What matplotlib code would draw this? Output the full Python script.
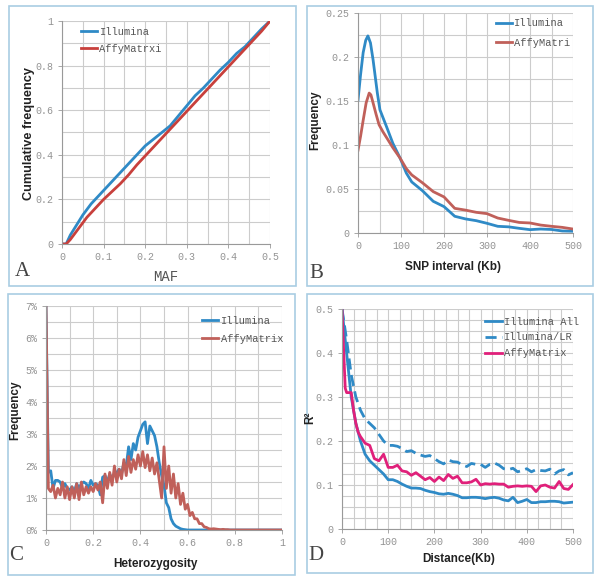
import matplotlib
matplotlib.use("Agg")
import matplotlib.pyplot as plt
from matplotlib.patches import Rectangle
from matplotlib.ticker import MultipleLocator, FuncFormatter

# ---------------- Data ----------------
# Panel A: cumulative MAF
a_x = [0, 0.01, 0.02, 0.03, 0.04, 0.05, 0.06, 0.07, 0.08, 0.09, 0.10, 0.12, 0.14, 0.16, 0.18,
       0.20, 0.22, 0.24, 0.26, 0.28, 0.30, 0.32, 0.34, 0.36, 0.38, 0.40, 0.42, 0.44, 0.46, 0.48, 0.50]
a_illumina = [0, 0.0, 0.04, 0.07, 0.10, 0.13, 0.155, 0.18, 0.20, 0.22, 0.24, 0.28, 0.32, 0.36, 0.40,
              0.44, 0.47, 0.50, 0.53, 0.575, 0.62, 0.665, 0.70, 0.74, 0.78, 0.815, 0.855, 0.885, 0.925, 0.965, 1.0]
a_affy = [0, 0.0, 0.02, 0.045, 0.07, 0.095, 0.12, 0.14, 0.16, 0.18, 0.20, 0.235, 0.27, 0.31, 0.355,
          0.395, 0.435, 0.475, 0.515, 0.555, 0.595, 0.635, 0.675, 0.715, 0.755, 0.795, 0.835, 0.875, 0.915, 0.955, 1.0]

# Panel B: SNP interval distribution
b_x = [0, 6, 12, 18, 23, 29, 35, 40, 45, 51, 59, 67, 81, 98, 112.5, 125, 150, 175, 200, 225, 250,
       275, 300, 325, 350, 375, 400, 425, 450, 475, 500]
b_illumina = [0.151, 0.180, 0.205, 0.219, 0.224, 0.216, 0.197, 0.178, 0.159, 0.140, 0.130, 0.120,
              0.102, 0.085, 0.068, 0.058, 0.048, 0.036, 0.030, 0.019, 0.016, 0.014, 0.011, 0.0076,
              0.007, 0.0053, 0.0038, 0.0045, 0.004, 0.0023, 0.002]
b_x_affy = [0, 6, 12, 19, 26, 30, 35, 42, 49, 58, 67, 81, 98, 112.5, 125, 150, 175, 200, 225, 250,
            275, 300, 325, 350, 375, 400, 425, 450, 475, 500]
b_affy = [0.094, 0.110, 0.128, 0.148, 0.159, 0.157, 0.148, 0.135, 0.123, 0.115, 0.108, 0.097, 0.085,
          0.073, 0.066, 0.057, 0.047, 0.041, 0.028, 0.026, 0.0235, 0.022, 0.017, 0.0144, 0.012,
          0.0114, 0.009, 0.0076, 0.0064, 0.0045]

# Panel C: heterozygosity distribution (%)
c_x = [0.00, 0.01, 0.02, 0.03, 0.04, 0.05, 0.06, 0.07, 0.08, 0.09,
       0.10, 0.11, 0.12, 0.13, 0.14, 0.15, 0.16, 0.17, 0.18, 0.19,
       0.20, 0.21, 0.22, 0.23, 0.24, 0.25, 0.26, 0.27, 0.28, 0.29,
       0.30, 0.31, 0.32, 0.33, 0.34, 0.35, 0.36, 0.37, 0.38, 0.39,
       0.40, 0.41, 0.42, 0.43, 0.44, 0.45, 0.46, 0.47, 0.48, 0.49,
       0.50, 0.51, 0.52, 0.53, 0.54, 0.55, 0.56, 0.57, 0.58, 0.59,
       0.60, 0.61, 0.62, 0.63, 0.64, 0.65, 0.66, 0.67, 0.68, 0.69,
       0.70, 0.71, 0.72, 0.73, 0.74, 0.75, 0.76, 0.77, 0.78, 0.79,
       0.80, 0.85, 0.90, 0.95, 1.00]
c_illumina = [7.0, 1.8, 1.85, 1.3, 1.55, 1.55, 1.5, 1.3, 1.45, 1.3,
              1.25, 1.35, 1.2, 1.45, 1.3, 1.45, 1.5, 1.45, 1.3, 1.55,
              1.4, 1.45, 1.4, 1.1, 1.65, 1.7, 1.5, 1.75, 1.6, 1.75,
              1.8, 1.9, 1.75, 2.1, 2.0, 2.6, 2.2, 2.7, 2.5, 2.9,
              3.1, 3.3, 3.38, 2.7, 3.25, 3.1, 2.95, 2.6, 2.1, 1.7,
              1.4, 0.85, 0.7, 0.35, 0.2, 0.12, 0.08, 0.04, 0.02, 0.01,
              0.0, 0.0, 0.0, 0.0, 0.0, 0.0, 0.0, 0.0, 0.0, 0.0,
              0.0, 0.0, 0.0, 0.0, 0.0, 0.0, 0.0, 0.0, 0.0, 0.0,
              0.0, 0.0, 0.0, 0.0, 0.0]
c_affy = [7.0, 1.3, 1.2, 1.4, 1.0, 1.3, 1.1, 1.5, 1.0, 1.35,
          0.95, 1.35, 1.0, 1.45, 0.95, 1.5, 1.1, 1.35, 1.15, 1.35,
          1.2, 1.45, 1.25, 1.5, 0.85, 1.75, 1.3, 1.8, 1.4, 2.0,
          1.5, 1.9, 1.6, 2.2, 1.7, 2.3, 1.8, 2.2, 1.9, 2.35,
          2.0, 2.45, 1.95, 2.35, 1.85, 2.25, 1.75, 2.1, 1.55, 1.0,
          2.6, 1.3, 2.0, 1.15, 1.75, 1.0, 1.45, 0.8, 1.15, 0.65,
          0.8, 0.45, 0.55, 0.35, 0.35, 0.2, 0.2, 0.1, 0.08, 0.04,
          0.03, 0.04, 0.03, 0.02, 0.01, 0.02, 0.01, 0.01, 0.0, 0.0,
          0.0, 0.0, 0.0, 0.0, 0.0]

# Panel D: LD decay (R^2)
d_x = [0, 10, 20, 30, 40, 50, 60, 70, 80, 90, 100, 110, 120, 130, 140, 150, 160, 170, 180, 190,
       200, 210, 220, 230, 240, 250, 260, 270, 280, 290, 300, 310, 320, 330, 340, 350, 360, 370,
       380, 390, 400, 410, 420, 430, 440, 450, 460, 470, 480, 490, 500]
d_illumina_all = [0.50, 0.40, 0.30, 0.24, 0.20, 0.17, 0.155, 0.145, 0.135, 0.125, 0.112, 0.112, 0.108,
                  0.102, 0.097, 0.093, 0.093, 0.092, 0.088, 0.085, 0.083, 0.080, 0.079, 0.081, 0.079,
                  0.076, 0.071, 0.071, 0.072, 0.072, 0.071, 0.069, 0.071, 0.072, 0.070, 0.066, 0.064,
                  0.072, 0.060, 0.063, 0.067, 0.060, 0.060, 0.062, 0.062, 0.063, 0.063, 0.062, 0.059,
                  0.060, 0.061]
d_illumina_lr = [0.50, 0.43, 0.35, 0.30, 0.27, 0.25, 0.24, 0.23, 0.215, 0.20, 0.19, 0.19, 0.188, 0.183,
                 0.176, 0.178, 0.172, 0.168, 0.165, 0.167, 0.160, 0.153, 0.148, 0.157, 0.153, 0.152,
                 0.146, 0.142, 0.149, 0.147, 0.147, 0.140, 0.147, 0.150, 0.145, 0.137, 0.135, 0.138,
                 0.130, 0.133, 0.137, 0.130, 0.135, 0.133, 0.132, 0.136, 0.125, 0.132, 0.135, 0.123,
                 0.128]
d_x_affy = [0, 3, 7, 10, 15, 20, 25, 30, 35, 40, 50, 60, 70, 80, 90, 100, 110, 120, 130, 140, 150,
            160, 170, 180, 190, 200, 210, 220, 230, 240, 250, 260, 270, 280, 290, 300, 310, 320, 330,
            340, 350, 360, 370, 380, 390, 400, 410, 420, 430, 440, 450, 460, 470, 480, 490, 500]
d_affy = [0.50, 0.42, 0.32, 0.31, 0.31, 0.31, 0.27, 0.24, 0.22, 0.21, 0.195, 0.19, 0.16, 0.155, 0.17,
          0.14, 0.14, 0.145, 0.132, 0.13, 0.122, 0.128, 0.12, 0.112, 0.117, 0.108, 0.118, 0.11, 0.124,
          0.115, 0.12, 0.105, 0.105, 0.107, 0.113, 0.100, 0.103, 0.102, 0.103, 0.102, 0.102, 0.095,
          0.097, 0.098, 0.097, 0.098, 0.097, 0.085, 0.098, 0.100, 0.095, 0.093, 0.108, 0.092, 0.090,
          0.101]

# ---------------- Styling ----------------
BLUE = "#2f8ac6"
RED_A = "#c8403c"
RED = "#c0605a"
PINK = "#e0207a"
GRID = "#cccccc"
BORDER = "#a9cde3"
TICKC = "#939393"
MONO = "Liberation Mono"
LABEL_FONT = ["Liberation Sans Narrow", "Liberation Sans", "DejaVu Sans"]

W, H = 600, 578
fig = plt.figure(figsize=(W / 100, H / 100), dpi=100)


def fx(px):
    return px / W


def fy(py):
    return 1 - py / H


def make_ax(l, t, r, b):
    return fig.add_axes([fx(l), fy(b), (r - l) / W, (b - t) / H])


def style(ax, xmaj, xmin, ymaj, ymin, xlim, ylim, xfmt, yfmt):
    ax.set_xlim(*xlim)
    ax.set_ylim(*ylim)
    ax.xaxis.set_major_locator(MultipleLocator(xmaj))
    ax.xaxis.set_minor_locator(MultipleLocator(xmin))
    ax.yaxis.set_major_locator(MultipleLocator(ymaj))
    ax.yaxis.set_minor_locator(MultipleLocator(ymin))
    ax.xaxis.set_major_formatter(FuncFormatter(xfmt))
    ax.yaxis.set_major_formatter(FuncFormatter(yfmt))
    ax.grid(True, which="both", color=GRID, lw=0.8)
    ax.set_axisbelow(True)
    for s in ["top", "right"]:
        ax.spines[s].set_visible(False)
    for s in ["left", "bottom"]:
        ax.spines[s].set_color("#999999")
        ax.spines[s].set_linewidth(0.8)
    ax.tick_params(which="major", length=3, width=0.6, color="#999999", labelcolor=TICKC, labelsize=7.2, pad=3)
    ax.tick_params(which="minor", length=0)
    for lab in ax.get_xticklabels() + ax.get_yticklabels():
        lab.set_fontfamily(MONO)


def num(v, p):
    if abs(v) < 1e-9:
        return "0"
    if abs(v - round(v)) < 1e-9:
        return str(int(round(v)))
    return ("%g" % v)


def pct(v, p):
    return "%d%%" % int(round(v))


def legend(ax, x, y, spacing=0.9):
    ax.legend(loc="upper left", bbox_to_anchor=(x, y), frameon=False,
              prop={"family": MONO, "size": 7.5}, handlelength=1.6, handletextpad=0.2,
              labelspacing=spacing, borderaxespad=0, borderpad=0, labelcolor="#555555")


def border(l, t, r, b):
    fig.patches.append(Rectangle((fx(l), fy(b)), (r - l) / W, (b - t) / H, transform=fig.transFigure,
                                 fill=False, edgecolor=BORDER, lw=1.2))


# Panel A
border(9, 6, 296, 286)
axA = make_ax(62, 21, 270, 244)
axA.plot(a_x, a_illumina, color=BLUE, lw=2, label="Illumina")
axA.plot(a_x, a_affy, color=RED_A, lw=2, label="AffyMatrxi")
style(axA, 0.1, 0.05, 0.2, 0.1, (0, 0.5), (0, 1), num, num)
legend(axA, 0.09, 0.975, 0.7)
fig.text(fx(29), fy(133), "Cumulative frequency", rotation=90, ha="center", va="center",
         family=LABEL_FONT, weight="bold", fontsize=9.2, color="#222222")
fig.text(fx(166), fy(277), "MAF", ha="center", va="center", family=MONO, fontsize=10, color="#555555")
fig.text(fx(22), fy(271), "A", ha="center", va="center", family="Liberation Serif", fontsize=15, color="#444444")

# Panel B
border(307, 6, 593, 286)
axB = make_ax(358, 13, 573, 233)
axB.plot(b_x, b_illumina, color=BLUE, lw=2, label="Illumina")
axB.plot(b_x_affy, b_affy, color=RED, lw=2, label="AffyMatri")
style(axB, 100, 50, 0.05, 0.025, (0, 500), (0, 0.25), num, num)
legend(axB, 0.64, 0.975, 0.9)
fig.text(fx(315), fy(120), "Frequency", rotation=90, ha="center", va="center",
         family=LABEL_FONT, weight="bold", fontsize=8.5, color="#222222")
fig.text(fx(453), fy(267), "SNP interval (Kb)", ha="center", va="center",
         family=LABEL_FONT, weight="bold", fontsize=8.5, color="#222222")
fig.text(fx(316), fy(273), "B", ha="center", va="center", family="Liberation Serif", fontsize=15, color="#444444")

# Panel C
border(8, 294, 295, 575)
axC = make_ax(46, 306, 282, 530)
axC.plot(c_x, c_illumina, color=BLUE, lw=2, label="Illumina")
axC.plot(c_x, c_affy, color=RED, lw=2, label="AffyMatrix")
style(axC, 0.2, 0.1, 1, 0.5, (0, 1), (0, 7), num, pct)
legend(axC, 0.66, 0.955, 0.75)
fig.text(fx(15), fy(410), "Frequency", rotation=90, ha="center", va="center",
         family=LABEL_FONT, weight="bold", fontsize=8.5, color="#222222")
fig.text(fx(155), fy(564), "Heterozygosity", ha="center", va="center",
         family=LABEL_FONT, weight="bold", fontsize=8.5, color="#222222")
fig.text(fx(16), fy(556), "C", ha="center", va="center", family="Liberation Serif", fontsize=15, color="#444444")

# Panel D
border(307, 294, 593, 573)
axD = make_ax(342, 309, 573, 529)
axD.plot(d_x, d_illumina_all, color=BLUE, lw=2, label="Illumina All")
axD.plot(d_x, d_illumina_lr, color=BLUE, lw=2, ls=(0, (4, 2)), label="Illumina/LR")
axD.plot(d_x_affy, d_affy, color=PINK, lw=2, label="AffyMatrix")
style(axD, 100, 25, 0.1, 0.025, (0, 500), (0, 0.5), num, num)
legend(axD, 0.62, 0.965, 0.55)
fig.text(fx(310), fy(418), "R²", rotation=90, ha="center", va="center",
         family=LABEL_FONT, weight="bold", fontsize=8.5, color="#222222")
fig.text(fx(459), fy(559), "Distance(Kb)", ha="center", va="center",
         family=LABEL_FONT, weight="bold", fontsize=8.5, color="#222222")
fig.text(fx(316), fy(556), "D", ha="center", va="center", family="Liberation Serif", fontsize=15, color="#444444")

fig.savefig("out.png", dpi=100, facecolor="white")
